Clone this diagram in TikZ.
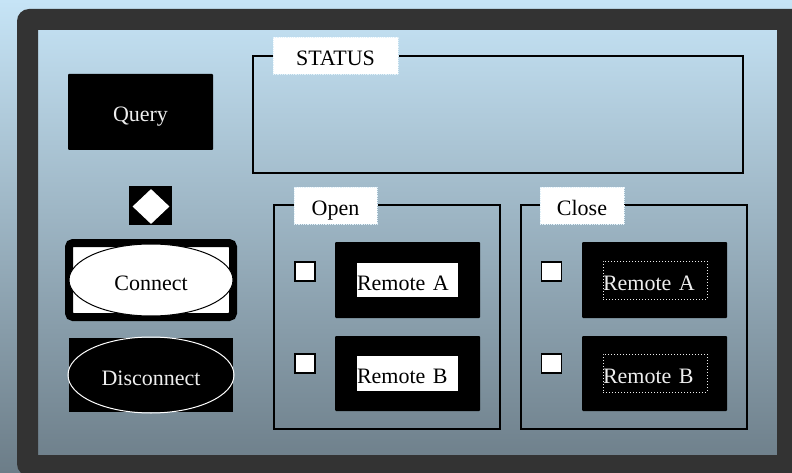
\documentclass[tikz,border=0pt]{standalone}
\usepackage{fontspec}
\setmainfont{Liberation Serif}
\usetikzlibrary{shapes.geometric}
\definecolor{bgtop}{HTML}{C6E4F6}
\definecolor{bgbottom}{HTML}{6C7D88}
\definecolor{framegray}{HTML}{333333}
\definecolor{softwhite}{HTML}{EEEEEE}

\begin{document}
\begin{tikzpicture}[x=1pt, y=-1pt, font=\fontsize{22}{24}\selectfont,
	txt/.style={text height=22pt, text depth=2pt},
	blackbtn/.style={fill=black, rounded corners=1pt, minimum width=145pt, minimum height=76pt, inner sep=0pt},
	groupbox/.style={draw=black, line width=1.2pt},
	grouplabel/.style={txt, fill=white, draw=bgtop!50!white, densely dotted, line width=0.8pt, minimum height=37pt, inner sep=0pt},
	checkbox/.style={draw=black, fill=white, line width=1.6pt, minimum width=20pt, minimum height=19pt, inner sep=0pt},
	openlbl/.style={txt, fill=white, text width=101pt, minimum height=34pt, inner sep=0pt, align=left},
	closelbl/.style={txt, draw=softwhite, dotted, line width=1pt, text=softwhite, text width=104pt, minimum height=38pt, inner sep=0pt, align=left}]
	\clip (0,0) rectangle (792,473);
	\shade[top color=bgtop, bottom color=bgbottom] (0,0) rectangle (792,473);
	\fill[framegray, even odd rule] [rounded corners=12pt] (17,9) rectangle (815,476) [sharp corners] (38,30) rectangle (777,455);
	% left column
	\node[blackbtn, txt, text=softwhite] (query) at (140.5,112) {Query};
	\node[fill=black, minimum width=43pt, minimum height=39pt] (diamondbox) at (150.8,205.5) {};
	\node[diamond, fill=white, minimum width=37pt, minimum height=35pt, inner sep=0pt] (diamondmark) at (151,206.5) {};
	\node[draw=black, fill=white, line width=8pt, rounded corners=4pt, minimum width=164pt, minimum height=74pt] (connectframe) at (151,280) {};
	\node[ellipse, txt, draw=black, fill=white, line width=1pt, minimum width=164pt, minimum height=72pt] (connect) at (151,280) {Connect};
	\node[fill=black, minimum width=164pt, minimum height=74pt] (disconnectbox) at (151,375) {};
	\node[ellipse, txt, draw=white, line width=1pt, text=softwhite, minimum width=166pt, minimum height=76pt] (disconnect) at (151,375) {Disconnect};
	% status
	\draw[groupbox] (253,56) rectangle (743,173);
	\node[grouplabel, minimum width=125pt] (status) at (335.5,56) {STATUS};
	% open
	\draw[groupbox] (274,205) rectangle (500,429);
	\node[grouplabel, minimum width=83pt] (open) at (335.5,205.5) {Open};
	\node[checkbox] (openchkA) at (305,271.5) {};
	\node[checkbox] (openchkB) at (305,363.5) {};
	\node[blackbtn] (openbtnA) at (407.5,280) {};
	\node[openlbl] (openA) at (407.5,280) {Remote A};
	\node[blackbtn, minimum height=75pt] (openbtnB) at (407.5,373.5) {};
	\node[openlbl, minimum height=35pt] (openB) at (407.5,373.5) {Remote B};
	% close
	\draw[groupbox] (521,205) rectangle (747,429);
	\node[grouplabel, minimum width=84pt] (close) at (582,205.5) {Close};
	\node[checkbox] (closechkA) at (551.5,271.5) {};
	\node[checkbox] (closechkB) at (551.5,363.5) {};
	\node[blackbtn] (closebtnA) at (654.5,280) {};
	\node[closelbl] (closeA) at (655,280) {Remote A};
	\node[blackbtn, minimum height=75pt] (closebtnB) at (654.5,373.5) {};
	\node[closelbl] (closeB) at (655,373) {Remote B};
\end{tikzpicture}
\end{document}
